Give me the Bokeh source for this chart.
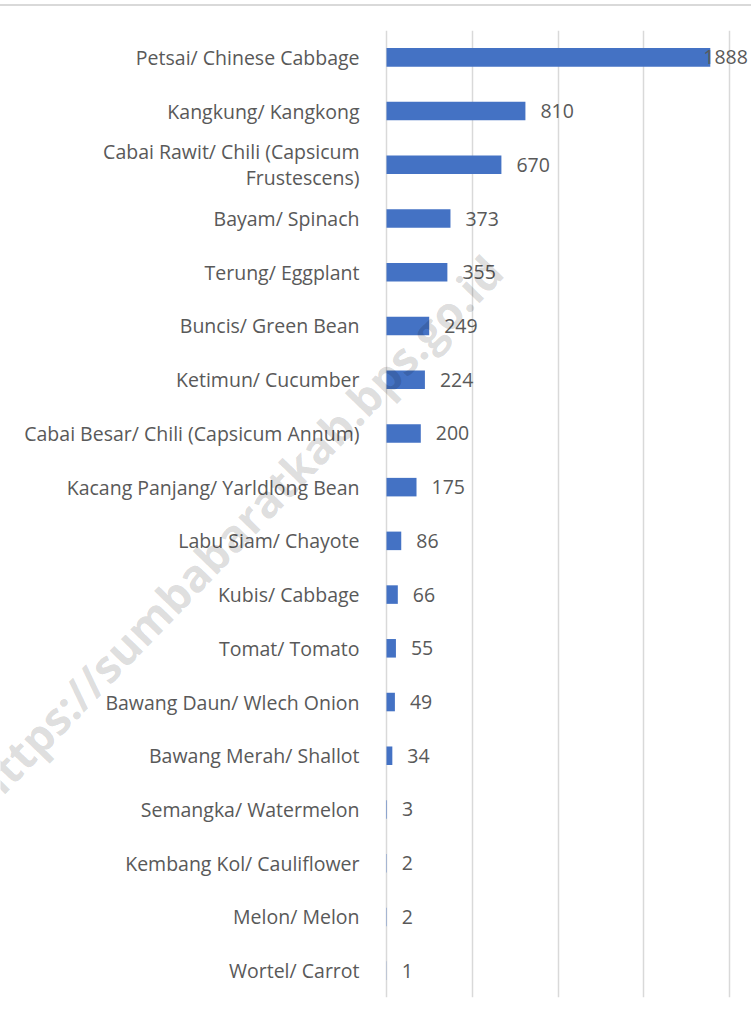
from bokeh.plotting import figure
from bokeh.models import ColumnDataSource, Label, FactorRange, FixedTicker
from bokeh.core.properties import value
from bokeh.embed import file_html
from bokeh.resources import INLINE

categories = [
    "Petsai/ Chinese Cabbage",
    "Kangkung/ Kangkong",
    "Cabai Rawit/ Chili (Capsicum\nFrustescens)",
    "Bayam/ Spinach",
    "Terung/ Eggplant",
    "Buncis/ Green Bean",
    "Ketimun/ Cucumber",
    "Cabai Besar/ Chili (Capsicum Annum)",
    "Kacang Panjang/ Yarldlong Bean",
    "Labu Siam/ Chayote",
    "Kubis/ Cabbage",
    "Tomat/ Tomato",
    "Bawang Daun/ Wlech Onion",
    "Bawang Merah/ Shallot",
    "Semangka/ Watermelon",
    "Kembang Kol/ Cauliflower",
    "Melon/ Melon",
    "Wortel/ Carrot",
]
values = [1888, 810, 670, 373, 355, 249, 224, 200, 175, 86, 66, 55, 49, 34, 3, 2, 2, 1]
x_ticks = [0, 500, 1000, 1500, 2000]
watermark = "https://sumbabaratkab.bps.go.id"

FONT = "Open Sans"
FS = "19.5px"
TXT = "#595959"
BAR = "#4472C4"
GRID = "#d9d9d9"

# layout (pixels)
W, H = 751, 1004
AX_X = 386          # x pixel of value 0
PX_PER_2000 = 343   # pixels for 0..2000
TOP_PAD, BOT_PAD = 24, 13
k = PX_PER_2000 / 2000.0

src = ColumnDataSource(dict(
    cat=categories,
    zero=[0] * len(values),
    val=values,
    lbl=[str(v) for v in values],
    off=[-7 if v > 1800 else 15 for v in values],
))

p = figure(
    width=W, height=H,
    y_range=FactorRange(factors=list(reversed(categories)), range_padding=0),
    x_range=(-AX_X / k, (W - AX_X) / k),
    output_backend="svg", toolbar_location=None,
    min_border_left=0, min_border_right=0,
    min_border_top=TOP_PAD, min_border_bottom=BOT_PAD,
)
p.styles = {"margin-top": "4px", "border-top": "2px solid #d9d9d9"}

p.hbar(y="cat", right="val", left=0, height=0.345, source=src,
       fill_color=BAR, line_color=None)

# value labels
p.text(x="val", y="cat", text="lbl", source=src, x_offset="off",
       text_baseline="middle", text_align="left",
       text_font=value(FONT), text_font_size=FS, text_color=TXT)

# category labels
p.text(x="zero", y="cat", text="cat", source=src, x_offset=-27,
       text_baseline="middle", text_align="right", text_line_height=0.95,
       text_font=value(FONT), text_font_size=FS, text_color=TXT)

# watermark
n = len(categories)
wm = Label(x=(236 - AX_X) / k, y=n - (529 - 30) / (967 / n),
           text=watermark, angle=46, angle_units="deg",
           text_align="center", text_baseline="middle",
           text_font=FONT, text_font_style="bold", text_font_size="45px",
           text_color="black", text_alpha=0.14)
p.add_layout(wm)

p.xaxis.visible = False
p.yaxis.visible = False
p.xgrid.ticker = FixedTicker(ticks=x_ticks)
p.xgrid.grid_line_color = GRID
p.xgrid.grid_line_width = 1.5
p.ygrid.grid_line_color = None

p.outline_line_color = None
p.background_fill_color = "white"
p.border_fill_color = "white"

open("out.html", "w").write(file_html(p, INLINE))
